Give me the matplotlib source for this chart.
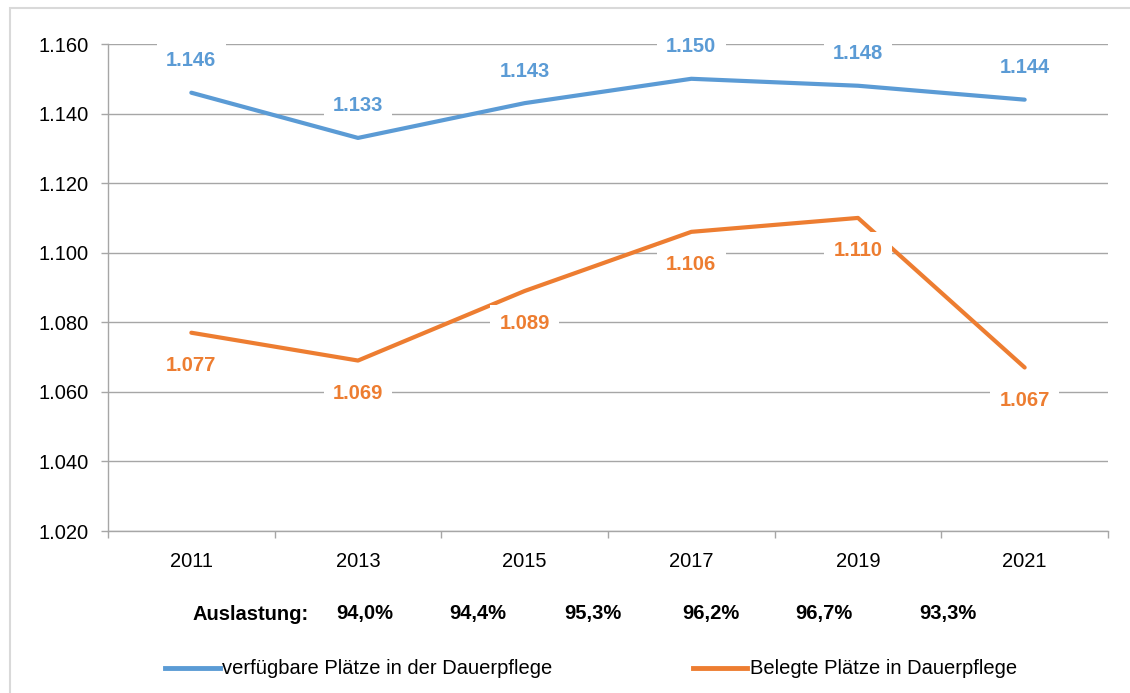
import numpy as np
import matplotlib
matplotlib.use("Agg")
from matplotlib import pyplot as plt
from matplotlib.patches import Rectangle
from matplotlib.ticker import FixedLocator, FuncFormatter

plt.rcParams['font.family'] = ['Liberation Sans Narrow', 'Liberation Sans', 'DejaVu Sans']

# data
years = ['2011', '2013', '2015', '2017', '2019', '2021']
verfuegbar = [1.146, 1.133, 1.143, 1.150, 1.148, 1.144]
belegt = [1.077, 1.069, 1.089, 1.106, 1.110, 1.067]
auslastung = ['94,0%', '94,4%', '95,3%', '96,2%', '96,7%', '93,3%']

blue = '#5B9BD5'
orange = '#ED7D31'
grid_col = '#A6A6A6'
fs = 14.5

fig = plt.figure(figsize=(11.3, 6.93), dpi=100)
ax = fig.add_axes([108/1130, 1-531/693, 1000/1130, 487/693])

x = np.arange(len(years))
ax.plot(x, verfuegbar, color=blue, lw=3, solid_capstyle='round', zorder=3)
ax.plot(x, belegt, color=orange, lw=3, solid_capstyle='round', zorder=3)

box = dict(boxstyle='square,pad=0.45', fc='white', ec='none')
for xi, v in zip(x, verfuegbar):
	ax.annotate('%.3f' % v, (xi, v), xytext=(0, 23), textcoords='offset points',
		ha='center', va='center', color=blue, fontsize=fs, fontweight='bold',
		bbox=box, zorder=5)
for xi, v in zip(x, belegt):
	ax.annotate('%.3f' % v, (xi, v), xytext=(0, -23.5), textcoords='offset points',
		ha='center', va='center', color=orange, fontsize=fs, fontweight='bold',
		bbox=box, zorder=5)

ax.set_xlim(-0.5, len(years)-0.5)
ax.set_ylim(1.020, 1.160)
ax.set_yticks(np.arange(1.020, 1.1601, 0.020))
ax.yaxis.set_major_formatter(FuncFormatter(lambda v, p: '%.3f' % v))
ax.set_xticks(x)
ax.set_xticklabels(years)
ax.xaxis.set_minor_locator(FixedLocator(np.arange(-0.5, len(years), 1.0)))
ax.tick_params(axis='x', which='major', length=0, pad=15, labelsize=fs)
ax.tick_params(axis='x', which='minor', length=5, width=1, color=grid_col, direction='out')
ax.tick_params(axis='y', length=5, width=1, color=grid_col, labelsize=fs, pad=9)
ax.grid(axis='y', color=grid_col, lw=1)
ax.set_axisbelow(True)
for s in ['top', 'right']:
	ax.spines[s].set_visible(False)
for s in ['left', 'bottom']:
	ax.spines[s].set_color(grid_col)
	ax.spines[s].set_linewidth(1)

# Auslastung row
row_y = 1 - 614/693
fig.text(251/1130, row_y, 'Auslastung:', ha='center', va='center', fontsize=fs, fontweight='bold')
row_x = [365, 478, 593, 711, 824, 948]
for px, t in zip(row_x, auslastung):
	fig.text(px/1130, row_y, t, ha='center', va='center', fontsize=fs, fontweight='bold')

# legend
leg_y = 1 - 668/693
fig.add_artist(plt.Line2D([165/1130, 220/1130], [leg_y, leg_y], color=blue, lw=3.5))
fig.text(222/1130, leg_y, 'verfügbare Plätze in der Dauerpflege', ha='left', va='center', fontsize=fs)
fig.add_artist(plt.Line2D([693/1130, 747/1130], [leg_y, leg_y], color=orange, lw=3.5))
fig.text(750/1130, leg_y, 'Belegte Plätze in Dauerpflege', ha='left', va='center', fontsize=fs)

# outer frame
fig.add_artist(Rectangle((10/1130, -0.1), 1.2, 1.1-8/693, transform=fig.transFigure,
	fill=False, ec='#D9D9D9', lw=1.5))

fig.savefig('out.png', dpi=100)
